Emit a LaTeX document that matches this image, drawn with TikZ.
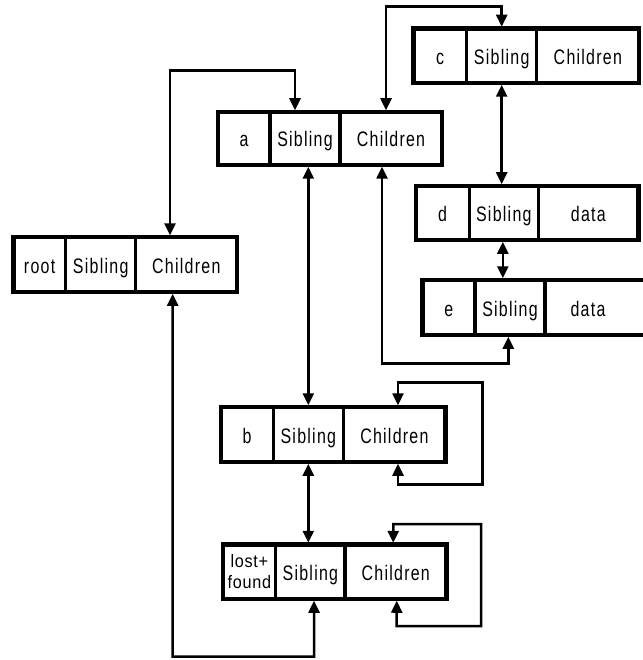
\documentclass[tikz,border=0pt]{standalone}
\usepackage{fontspec}
\setmainfont{Liberation Sans}
\newfontfamily\labfont[FakeStretch=0.76,LetterSpace=6]{Liberation Sans}
\newfontfamily\smallfont[FakeStretch=0.9,LetterSpace=4]{Liberation Sans}
\usetikzlibrary{arrows.meta,calc}
\tikzset{
  cellbase/.style={draw, line width=3.5pt, fill=white, inner sep=0pt, align=center,
    text=black},
  cell/.style={cellbase, font=\labfont\fontsize{21}{24}\selectfont,
    text height=17pt, text depth=0pt},
  outerbox/.style={draw, line width=4.5pt},
  conn/.style={line width=2.5pt, line join=miter,
    {Triangle[length=12pt,width=11pt]}-{Triangle[length=12pt,width=11pt]}}
}
\newcommand\recframe[2]{\draw[outerbox] ([shift={(1.75,1.75)}]#1.north west) rectangle ([shift={(-1.75,-1.75)}]#2.south east);}
\begin{document}
\begin{tikzpicture}[x=1pt,y=-1pt]
\useasboundingbox (0,0) rectangle (642,660);
% root
\node[cell, minimum width=52.2pt, minimum height=55pt] (rN) at (39.6,264.5) {root};
\node[cell, minimum width=70pt, minimum height=55pt] (rS) at (100.7,264.5) {Sibling};
\node[cell, minimum width=101.3pt, minimum height=55pt] (rC) at (186.35,264.5) {Children};
\recframe{rN}{rC}
% a
\node[cell, minimum width=52pt, minimum height=53pt] (aN) at (244,138.5) {a};
\node[cell, minimum width=70pt, minimum height=53pt] (aS) at (305,138.5) {Sibling};
\node[cell, minimum width=102pt, minimum height=53pt] (aC) at (391,138.5) {Children};
\recframe{aN}{aC}
% c
\node[cell, minimum width=53.2pt, minimum height=54.5pt] (cN) at (440.1,55.75) {c};
\node[cell, minimum width=70pt, minimum height=54.5pt] (cS) at (501.7,55.75) {Sibling};
\node[cell, minimum width=102.3pt, minimum height=54.5pt] (cC) at (587.85,55.75) {Children};
\recframe{cN}{cC}
% d
\node[cell, minimum width=53.3pt, minimum height=54pt] (dN) at (442.65,213) {d};
\node[cell, minimum width=69pt, minimum height=54pt] (dS) at (503.8,213) {Sibling};
\node[cell, minimum width=100.2pt, minimum height=54pt] (dC) at (588.4,213) {data};
\recframe{dN}{dC}
% e
\node[cell, minimum width=52.5pt, minimum height=55pt] (eN) at (448.75,307.5) {e};
\node[cell, minimum width=70pt, minimum height=55pt] (eS) at (510,307.5) {Sibling};
\node[cell, draw=none, fill=none, minimum width=80pt, minimum height=55pt] (eC) at (588,307.5) {data};
\draw[outerbox] ([shift={(1.75,1.75)}]eN.north west) rectangle (660,335);
% b
\node[cell, minimum width=52.3pt, minimum height=55pt] (bN) at (247.15,434.5) {b};
\node[cell, minimum width=70pt, minimum height=55pt] (bS) at (308.3,434.5) {Sibling};
\node[cell, minimum width=102.2pt, minimum height=55pt] (bC) at (394.4,434.5) {Children};
\recframe{bN}{bC}
% lost+found
\node[cellbase, minimum width=52.7pt, minimum height=54.5pt, font=\smallfont\fontsize{18}{21.5}\selectfont] (lN) at (249.35,571.75) {lost+\\found};
\node[cell, minimum width=69.3pt, minimum height=54.5pt] (lS) at (310.35,571.75) {Sibling};
\node[cell, minimum width=101.5pt, minimum height=54.5pt] (lC) at (395.75,571.75) {Children};
\recframe{lN}{lC}
% connectors
\draw[conn] ([xshift=-16.35pt]rC.north) |- (295,70.7) -- ([xshift=-10pt]aS.north);
\draw[conn] ([xshift=-5pt]aC.north) |- (501.7,6.7) -- (cS.north);
\draw[conn] (cS.south) -- (cS.south |- dS.north);
\draw[conn] ([xshift=-1pt]dS.south) -- ([xshift=-1pt]dS.south |- eS.north);
\draw[conn] ([xshift=-1.7pt]eS.south) |- (382,363.3) -- ([xshift=-9pt]aC.south);
\draw[conn] (bS.north |- aS.south) -- (bS.north);
\draw[conn] ([xshift=3.6pt]bC.north) |- (482.7,382.7) |- (398,484.3) -- ([xshift=3.6pt]bC.south);
\draw[conn] (bS.south) -- (bS.south |- lS.north);
\draw[conn] ([xshift=-2.5pt]lC.north) |- (481,524) |- (396.7,626) -- ([xshift=1pt]lC.south);
\draw[conn] ([xshift=3.65pt]lS.south) |- (172.7,656.7) -- ([xshift=-13.65pt]rC.south);
\end{tikzpicture}
\end{document}
